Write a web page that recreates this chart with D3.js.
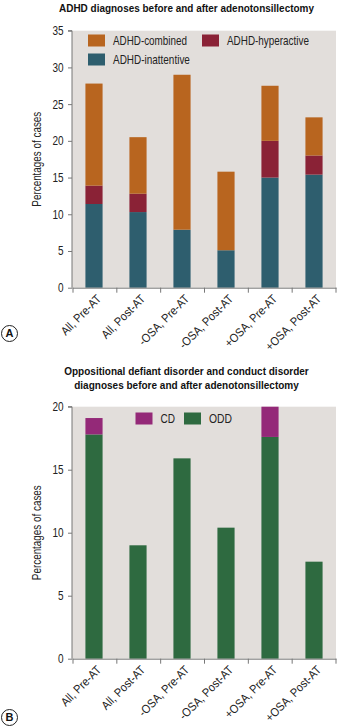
<!DOCTYPE html>
<html><head><meta charset="utf-8">
<script src="https://cdn.jsdelivr.net/npm/d3@7"></script>
<style>body{margin:0;background:#fff}svg{display:block;font-family:"Liberation Sans",Arial,sans-serif}</style>
</head><body><svg id="c" width="337" height="727"></svg>
<script>
const categories = ["All, Pre-AT","All, Post-AT","-OSA, Pre-AT","-OSA, Post-AT","+OSA, Pre-AT","+OSA, Post-AT"];
// Panel A (stacked segments)
const inattentive = [11.4, 10.3, 7.9, 5.1, 15.0, 15.4];
const hyperactive = [2.5, 2.5, 0, 0, 5.0, 2.6];
const combined    = [13.9, 7.7, 21.1, 10.7, 7.5, 5.2];
const ticksA = [0,5,10,15,20,25,30,35];
// Panel B
const odd = [17.8, 9.0, 15.9, 10.4, 17.6, 7.7];
const cd  = [1.3, 0, 0, 0, 2.4, 0];
const ticksB = [0,5,10,15,20];

const svg = d3.select("#c");
const bg = "#e2dedb";
const axisCol = "#777";
const tf = "'Liberation Sans',Arial,sans-serif";
const K = 0.8; // horizontal condensing to mimic narrow typeface

function fitText(parent, str, x, y, opts){
  const el = parent.append("text").attr("font-size", opts.size).attr("fill", opts.fill || "#222")
    .attr("font-family", tf).attr("text-anchor", opts.anchor || "start")
    .attr("font-weight", opts.weight || "normal").attr("dy", opts.dy || null).text(str);
  let k = opts.k || K;
  if (opts.width) { const w = el.node().getComputedTextLength(); if (w > 0) k = opts.width / w; }
  el.attr("transform", `translate(${x},${y})${opts.rotate ? ` rotate(${opts.rotate})` : ""} scale(${k},1)`);
  return el;
}

function panel(o){
  const g = svg.append("g");
  const x = d3.scaleBand().domain(categories).range([o.x0, o.x1]).paddingInner(0.61).paddingOuter(0.305);
  const y = d3.scaleLinear().domain([0, o.max]).range([o.yBottom, o.yTop]);
  g.append("rect").attr("x", o.x0).attr("y", o.yTop).attr("width", o.x1 - o.x0).attr("height", o.yBottom - o.yTop).attr("fill", bg);
  const stack = d3.stack().keys(o.keys.map(k=>k.name))(categories.map((c,i)=>{const r={cat:c}; o.keys.forEach(k=>r[k.name]=k.values[i]); return r;}));
  stack.forEach((s,si)=>{
    g.append("g").selectAll("rect").data(s).join("rect")
      .attr("x", d=>x(d.data.cat)).attr("width", x.bandwidth())
      .attr("y", d=>y(Math.min(d[1], o.max))).attr("height", d=>Math.max(0, y(d[0]) - y(Math.min(d[1], o.max))))
      .attr("fill", o.keys[si].color);
  });
  const ya = d3.axisLeft(y).tickValues(o.ticks).tickSize(4).tickPadding(4);
  const yg = g.append("g").attr("transform", `translate(${o.x0},0)`).call(ya);
  yg.select(".domain").attr("stroke", axisCol).attr("d", `M-4,${o.yTop}H0V${o.yBottom}`);
  yg.selectAll(".tick line").attr("stroke", axisCol);
  yg.selectAll(".tick text").attr("font-size", 12.5).attr("fill", "#222").attr("font-family", tf)
    .attr("x", -8.5 / K).attr("transform", `scale(${K},1)`);
  const xa = d3.axisBottom(x).tickSize(0).tickFormat("");
  const xg = g.append("g").attr("transform", `translate(0,${o.yBottom})`).call(xa);
  xg.select(".domain").attr("stroke", axisCol);
  const bounds = d3.range(categories.length + 1).map(i => o.x0 + 1 + i * (o.x1 - o.x0 - 1) / categories.length);
  xg.selectAll("line.b").data(bounds).join("line").attr("class","b").attr("x1", d=>d).attr("x2", d=>d).attr("y1",0).attr("y2",5).attr("stroke", axisCol);
  categories.forEach(c => fitText(g, c, x(c) + x.bandwidth()/2 + 5, o.yBottom + 9, {size:12, anchor:"end", rotate:-45, dy:"0.35em", k:0.9}));
  fitText(g, "Percentages of cases", o.labelX, (o.yTop + o.yBottom)/2, {size:12.5, anchor:"middle", rotate:-90, width:95});
  return {x,y};
}

panel({x0:72, x1:336, yTop:30.7, yBottom:287.7, max:35, ticks:ticksA, labelX:40.5,
  keys:[{name:"inattentive",values:inattentive,color:"#2e5e6e"},{name:"hyperactive",values:hyperactive,color:"#8a2236"},{name:"combined",values:combined,color:"#b8651f"}]});
panel({x0:72, x1:336, yTop:406.7, yBottom:658.7, max:20, ticks:ticksB, labelX:40.5,
  keys:[{name:"ODD",values:odd,color:"#2e6a40"},{name:"CD",values:cd,color:"#942978"}]});

fitText(svg, "ADHD diagnoses before and after adenotonsillectomy", 186.5, 12, {size:11.5, weight:"bold", anchor:"middle", fill:"#111", width:255});
fitText(svg, "Oppositional defiant disorder and conduct disorder", 186.5, 374.5, {size:11.5, weight:"bold", anchor:"middle", fill:"#111", width:245});
fitText(svg, "diagnoses before and after adenotonsillectomy", 186.5, 389, {size:11.5, weight:"bold", anchor:"middle", fill:"#111", width:225});

function legend(items){
  items.forEach(it=>{
    svg.append("rect").attr("x",it.x).attr("y",it.y).attr("width",17).attr("height",12).attr("fill",it.color);
    fitText(svg, it.label, it.x + 25, it.y + 6, {size:12, dy:"0.35em", width:it.w});
  });
}
legend([{x:88,y:34.5,color:"#b8651f",label:"ADHD-combined",w:74},{x:202,y:34.5,color:"#8a2236",label:"ADHD-hyperactive",w:82},{x:88,y:53.5,color:"#2e5e6e",label:"ADHD-inattentive",w:77}]);
legend([{x:135.5,y:412.5,color:"#942978",label:"CD",w:14.5},{x:184,y:412.5,color:"#2e6a40",label:"ODD",w:23}]);

[["A",333.5],["B",717.5]].forEach(([l,cy])=>{
  svg.append("circle").attr("cx",9.5).attr("cy",cy).attr("r",8).attr("fill","#fff").attr("stroke","#222").attr("stroke-width",1);
  svg.append("text").attr("x",9.5).attr("y",cy).attr("dy","0.36em").attr("text-anchor","middle").attr("font-size",11).attr("font-weight","bold").attr("fill","#111").attr("font-family",tf).text(l);
});
</script></body></html>
